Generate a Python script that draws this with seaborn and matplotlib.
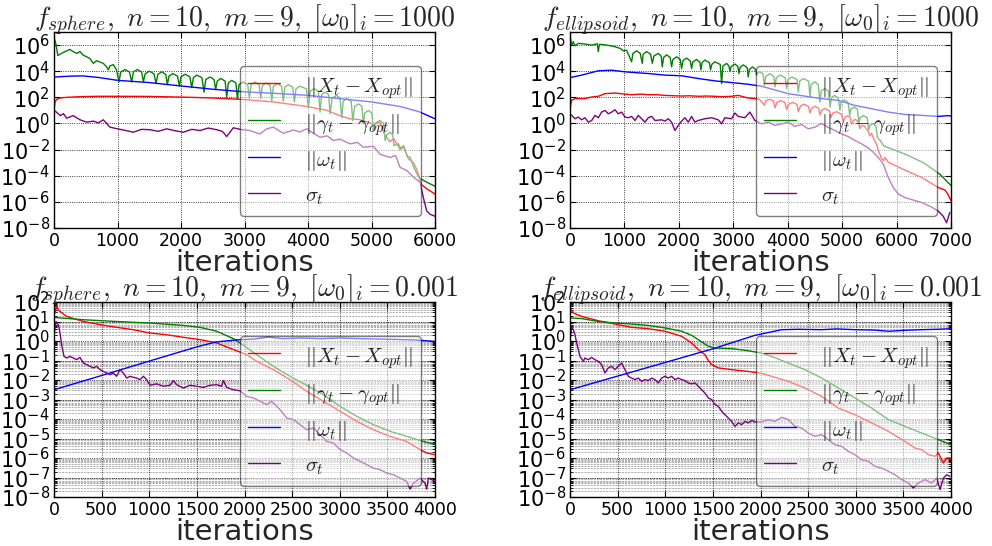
import numpy as np
import pandas as pd
import matplotlib
matplotlib.use("Agg")
import matplotlib.pyplot as plt
from matplotlib.font_manager import FontProperties
from matplotlib.transforms import offset_copy
from matplotlib.ticker import (FixedLocator, LogLocator, LogFormatterSciNotation,
                               NullLocator, NullFormatter)
import seaborn as sns

# ---------------------------------------------------------------------------
# Convergence traces: (iteration, log10 of the quantity)
# ---------------------------------------------------------------------------

# f_sphere, [w0]_i = 1000
sph_big_x = [(0, 1.0), (15, 1.6), (40, 1.85), (100, 1.95), (200, 2.0), (400, 2.05),
             (700, 2.08), (1000, 2.08), (1500, 2.07), (2000, 2.02), (2500, 1.95),
             (2930, 1.85), (3450, 1.65), (3980, 1.3), (4300, 1.0), (4500, 0.6),
             (4660, 0.36), (4800, 0.3), (4950, 0.1), (5030, -0.1), (5130, 0.1),
             (5210, -0.9), (5290, -1.4), (5350, -1.15), (5450, -2.0), (5500, -1.7),
             (5580, -2.7), (5660, -3.0), (5710, -3.5), (5790, -4.7), (5870, -5.0),
             (6000, -5.4)]
sph_big_gamma = [(0, 6.6), (30, 6.1), (60, 5.2), (115, 5.36), (200, 5.56), (250, 5.67),
                 (300, 5.5), (360, 5.36), (410, 5.5), (460, 5.23), (515, 5.1),
                 (565, 4.97), (620, 4.6), (670, 4.8), (725, 4.7), (775, 4.6),
                 (830, 4.33), (855, 4.1), (880, 4.4), (935, 4.5), (985, 4.1),
                 (1024, 3.18), (1050, 3.93), (1119, 4.13), (1190, 3.93),
                 (1224, 3.18), (1250, 3.93), (1313, 4.13), (1380, 3.93),
                 (1408, 3.18), (1435, 3.8), (1502, 4.0), (1575, 3.8),
                 (1607, 3.05), (1635, 3.75), (1697, 3.95), (1760, 3.75),
                 (1786, 2.97), (1810, 3.62), (1870, 3.82), (1945, 3.62),
                 (1975, 2.85), (2000, 3.57), (2064, 3.77), (2140, 3.57),
                 (2169, 2.74), (2195, 3.5), (2248, 3.7), (2330, 3.5),
                 (2363, 2.4), (2390, 3.36), (2457, 3.56), (2520, 3.36),
                 (2546, 2.6), (2570, 3.24), (2625, 3.44), (2695, 3.24),
                 (2720, 2.0), (2745, 3.1), (2799, 3.3), (2865, 3.1),
                 (2888, 1.9), (2915, 2.98), (2982, 3.18), (3050, 2.98),
                 (3077, 1.9), (3105, 2.98), (3166, 3.18), (3230, 2.98),
                 (3256, 1.9), (3280, 2.9), (3340, 3.1), (3405, 2.9),
                 (3429, 1.72), (3455, 2.85), (3518, 3.05), (3585, 2.85),
                 (3612, 1.72), (3635, 2.77), (3691, 2.97), (3760, 2.77),
                 (3786, 1.64), (3810, 2.65), (3875, 2.85), (3975, 2.65),
                 (4006, 1.2), (4035, 2.47), (4096, 2.67), (4165, 2.47),
                 (4190, 0.87), (4215, 2.2), (4269, 2.4), (4325, 2.2),
                 (4348, 0.74), (4380, 1.95), (4452, 2.15), (4505, 1.95),
                 (4531, 0.44), (4555, 1.7), (4610, 1.9), (4680, 1.7),
                 (4705, 0.23), (4735, 1.3), (4794, 1.5), (4850, 1.3),
                 (4872, -0.03), (4895, 0.8), (4951, 1.0), (5005, 0.8),
                 (5030, -0.54), (5060, 0.03), (5135, 0.23), (5190, 0.0),
                 (5214, -1.3), (5240, -0.87), (5292, -0.67), (5335, -0.9),
                 (5355, -1.7), (5420, -1.55), (5470, -1.95), (5510, -1.75),
                 (5560, -2.5), (5610, -2.6), (5660, -3.3), (5720, -3.9),
                 (5765, -4.2), (5870, -4.5), (6000, -4.8)]
sph_big_omega = [(0, 3.55), (250, 3.62), (450, 3.64), (700, 3.52), (1000, 3.3),
                 (1500, 3.13), (2000, 2.87), (2500, 2.62), (3000, 2.42), (3500, 2.3),
                 (4000, 2.15), (4500, 1.9), (5000, 1.65), (5450, 1.3), (5750, 0.9),
                 (6000, 0.36)]
sph_big_sigma = [(0, 1.0), (30, 0.9), (100, 0.6), (150, 0.75), (200, 0.4), (300, 0.6),
                 (410, 0.28), (515, 0.1), (620, 0.18), (700, 0.05), (777, 0.28),
                 (880, -0.28), (987, -0.4), (1092, -0.5), (1250, -0.67), (1380, -0.45),
                 (1512, -0.48), (1640, -0.6), (1775, -0.41), (1900, -0.55), (2037, -0.67),
                 (2170, -0.45), (2300, -0.54), (2430, -0.35), (2562, -0.48), (2650, -0.6),
                 (2720, -1.0), (2824, -0.33), (2930, -0.45), (3087, -0.55), (3244, -0.8),
                 (3350, -0.41), (3454, -0.28), (3612, -0.75), (3769, -0.5), (3870, -0.65),
                 (3979, -0.41), (4100, -0.8), (4189, -1.05), (4300, -0.95), (4400, -1.3),
                 (4504, -1.2), (4662, -1.56), (4780, -1.45), (4872, -1.82), (5030, -1.75),
                 (5135, -2.36), (5292, -2.6), (5380, -2.45), (5450, -3.36), (5555, -3.6),
                 (5660, -4.1), (5765, -4.5), (5818, -5.7), (5870, -6.7), (5923, -6.95),
                 (6000, -7.1)]

# f_ellipsoid, [w0]_i = 1000
ell_big_x = [(0, 1.13), (30, 1.77), (90, 1.9), (275, 1.9), (400, 2.03), (520, 2.08),
             (640, 2.28), (830, 2.33), (1000, 2.25), (1130, 2.2), (1300, 2.25),
             (1440, 2.2), (1600, 2.2), (1740, 2.15), (1900, 2.12), (2050, 2.1),
             (2200, 2.12), (2360, 2.08), (2500, 2.1), (2660, 2.08), (2800, 2.05),
             (2970, 2.08), (3090, 2.15), (3270, 1.95), (3400, 1.9), (3480, 1.85),
             (3570, 1.4), (3600, 1.75), (3670, 1.85), (3740, 1.7), (3766, 1.2),
             (3800, 1.6), (3870, 1.75), (3950, 1.6), (3980, 1.05), (4010, 1.45),
             (4090, 1.62), (4170, 1.45), (4195, 0.9), (4230, 1.3), (4300, 1.48),
             (4380, 1.3), (4409, 0.8), (4440, 1.15), (4500, 1.32), (4570, 1.15),
             (4592, 0.65), (4620, 1.0), (4690, 1.15), (4770, 0.95), (4794, 0.45),
             (4830, 0.8), (4900, 0.9), (4990, 0.7), (5021, 0.2), (5060, 0.5),
             (5100, 0.58), (5150, 0.45), (5174, -0.05), (5210, 0.25), (5250, 0.3),
             (5300, 0.1), (5327, -0.4), (5360, -0.15), (5410, -0.2), (5480, -0.6),
             (5510, -0.95), (5540, -0.75), (5572, -1.1), (5633, -1.6), (5664, -2.05),
             (5725, -2.7), (5760, -2.85), (5790, -2.6), (5847, -2.97), (6150, -3.56),
             (6460, -4.13), (6765, -4.9), (6890, -5.1), (6940, -5.4), (7000, -5.9)]
ell_big_gamma = [(0, 1.1), (5, 6.6), (31, 6.0), (61, 6.26), (90, 5.95), (153, 6.13),
                 (275, 6.08), (398, 6.0), (500, 6.1), (520, 5.5), (540, 6.05),
                 (581, 6.05), (704, 5.98), (826, 5.87), (918, 5.75), (979, 5.56),
                 (1040, 5.6),
                 (1132, 4.72), (1155, 5.36), (1224, 5.56), (1290, 5.36),
                 (1328, 4.6), (1345, 5.3), (1408, 5.5), (1480, 5.3),
                 (1512, 4.6), (1540, 5.16), (1622, 5.36), (1675, 5.16),
                 (1695, 4.33), (1720, 5.05), (1775, 5.25), (1840, 5.05),
                 (1867, 4.33), (1890, 4.9), (1959, 5.1), (2025, 4.9),
                 (2050, 4.2), (2075, 4.8), (2142, 5.0), (2210, 4.8),
                 (2234, 4.2), (2255, 4.7), (2326, 4.9), (2385, 4.7),
                 (2405, 4.1), (2425, 4.65), (2479, 4.85), (2560, 4.65),
                 (2583, 4.1), (2605, 4.52), (2662, 4.72), (2760, 4.52),
                 (2785, 3.05), (2810, 4.4), (2877, 4.6), (2920, 4.4),
                 (2938, 4.0), (2960, 4.35), (3030, 4.55), (3085, 4.35),
                 (3103, 3.82), (3125, 4.28), (3183, 4.48), (3255, 4.28),
                 (3274, 3.56), (3295, 4.13), (3354, 4.33), (3410, 4.13),
                 (3427, 3.7), (3445, 3.85), (3480, 3.95), (3545, 3.8),
                 (3570, 2.92), (3595, 3.6), (3674, 3.8), (3745, 3.6),
                 (3766, 2.8), (3790, 3.5), (3858, 3.7), (3955, 3.5),
                 (3980, 2.67), (4005, 3.36), (4072, 3.56), (4170, 3.36),
                 (4195, 2.4), (4220, 3.24), (4286, 3.44), (4385, 3.24),
                 (4409, 2.0), (4430, 2.98), (4500, 3.18), (4560, 2.98),
                 (4592, 1.64), (4615, 2.47), (4680, 2.67), (4750, 2.47),
                 (4780, 1.26), (4800, 1.95), (4860, 2.15), (4930, 1.95),
                 (4960, 1.0), (4980, 1.6), (5040, 1.8), (5110, 1.6),
                 (5140, 0.6), (5160, 1.1), (5220, 1.25), (5280, 1.1),
                 (5310, 0.0), (5330, 0.45), (5390, 0.6), (5460, 0.45),
                 (5490, -0.5), (5510, -0.15), (5570, 0.0), (5620, -0.2),
                 (5650, -1.1), (5700, -1.3), (5760, -1.7), (5880, -1.9),
                 (6186, -2.4), (6493, -3.0), (6799, -3.9), (7000, -4.75)]
ell_big_omega = [(0, 3.51), (214, 3.7), (520, 4.03), (765, 4.08), (1010, 3.95),
                 (1438, 3.82), (1744, 3.7), (2050, 3.65), (2356, 3.44), (2662, 3.26),
                 (2968, 3.13), (3274, 3.0), (3519, 2.85), (4011, 2.28), (4623, 1.9),
                 (4929, 1.77), (5235, 1.38), (5541, 1.13), (5847, 0.87), (6153, 0.69),
                 (6459, 0.62), (6765, 0.54), (6949, 0.6), (7000, 0.56)]
ell_big_sigma = [(0, 0.74), (31, 0.62), (92, 0.36), (153, 0.49), (214, 0.28), (275, 0.44),
                 (337, 0.1), (398, 0.23), (459, 0.62), (520, 0.44), (581, 0.87),
                 (643, 1.0), (704, 0.74), (765, 0.87), (826, 1.05), (888, 0.74),
                 (949, 0.87), (1010, 0.49), (1071, 0.44), (1132, 0.54), (1194, 0.23),
                 (1255, 0.62), (1316, 0.36), (1377, 0.1), (1438, 0.44), (1500, 0.54),
                 (1561, 0.23), (1683, 0.28), (1744, 0.18), (1806, 0.36), (1867, 0.1),
                 (1928, -0.54), (1990, -0.15), (2050, 0.18), (2112, 0.44), (2173, 0.1),
                 (2234, 0.54), (2295, 0.1), (2356, 0.23), (2479, 0.36), (2601, 0.44),
                 (2724, 0.28), (2785, -0.03), (2846, 0.44), (2968, 0.36), (3030, 0.8),
                 (3091, 0.54), (3213, 0.44), (3305, 0.87), (3397, 0.23), (3519, -0.03),
                 (3644, 0.1), (3766, -0.15), (3889, -0.03), (4011, 0.1), (4133, -0.23),
                 (4256, -0.08), (4378, -0.41), (4500, -0.28), (4623, 0.0), (4745, -0.3),
                 (4868, -0.54), (4990, -0.8), (5113, -1.0), (5235, -1.3), (5357, -1.56),
                 (5480, -1.87), (5572, -2.2), (5664, -2.6), (5755, -3.1), (5847, -4.13),
                 (5939, -4.9), (6031, -5.4), (6153, -5.67), (6337, -5.9), (6459, -6.05),
                 (6643, -6.4), (6765, -6.7), (6857, -7.1), (6918, -7.6), (6979, -6.8)]

# f_sphere, [w0]_i = 0.001
sph_small_x = [(0, 1.3), (30, 1.8), (45, 1.6), (63, 1.52), (133, 1.26), (308, 1.0),
               (483, 0.84), (658, 0.7), (833, 0.58), (1008, 0.41), (1183, 0.32),
               (1358, 0.19), (1533, 0.07), (1708, -0.1), (1883, -0.44), (2023, -0.7),
               (2128, -1.04), (2303, -1.47), (2478, -1.98), (2653, -2.58), (2828, -3.09),
               (3003, -3.6), (3178, -4.12), (3353, -4.55), (3528, -4.89), (3703, -5.15),
               (3843, -5.57), (3913, -5.74), (4000, -5.83)]
sph_small_gamma = [(0, 1.21), (308, 1.09), (658, 1.0), (1008, 0.92), (1358, 0.8),
                   (1533, 0.7), (1708, 0.5), (1883, 0.12), (1953, -0.1), (2128, -0.7),
                   (2303, -1.3), (2478, -1.81), (2653, -2.27), (2828, -2.75),
                   (3003, -3.35), (3178, -3.86), (3353, -4.29), (3528, -4.63),
                   (3703, -4.89), (3878, -5.15), (4000, -5.3)]
sph_small_omega = [(0, -2.5), (500, -1.77), (1000, -1.03), (1500, -0.3), (1700, -0.05),
                   (1900, 0.05), (2100, 0.1), (2250, 0.2), (2400, 0.12), (2600, 0.15),
                   (2800, 0.12), (3000, 0.15), (3200, 0.12), (3400, 0.1), (3600, 0.08),
                   (3800, 0.05), (4000, -0.02)]
sph_small_sigma = [(0, 0.32), (21, 1.0), (45, 0.84), (63, 0.41), (80, -0.19), (105, -0.79),
                   (133, -0.87), (168, -0.79), (203, -0.87), (238, -0.96), (273, -0.84),
                   (308, -1.13), (343, -1.21), (378, -1.3), (413, -1.38), (448, -1.3),
                   (483, -1.47), (518, -1.56), (553, -1.64), (588, -1.73), (623, -1.64),
                   (658, -1.81), (693, -1.47), (728, -1.64), (763, -1.9), (798, -1.81),
                   (833, -1.86), (868, -1.9), (903, -1.98), (938, -1.81), (973, -1.98),
                   (1008, -2.27), (1078, -2.2), (1148, -2.32), (1218, -2.27), (1253, -2.03),
                   (1288, -2.24), (1358, -2.41), (1428, -2.27), (1498, -2.32), (1568, -2.38),
                   (1638, -2.27), (1708, -2.24), (1760, -2.32), (1778, -2.03), (1813, -2.38),
                   (1883, -2.5), (1953, -2.55), (2023, -2.84), (2093, -2.92), (2163, -3.09),
                   (2233, -3.26), (2280, -3.1), (2303, -3.18), (2373, -3.52), (2443, -3.95),
                   (2513, -4.03), (2583, -4.29), (2653, -4.55), (2723, -4.46), (2793, -4.8),
                   (2863, -5.15), (2933, -5.23), (3003, -5.57), (3073, -5.74), (3143, -6.0),
                   (3213, -6.17), (3283, -6.34), (3353, -6.52), (3423, -6.6), (3493, -6.77),
                   (3563, -6.86), (3633, -7.03), (3703, -7.2), (3738, -7.6), (3773, -7.3),
                   (3843, -7.03), (3896, -7.3), (3913, -7.6), (3931, -7.03), (4000, -7.2)]

# f_ellipsoid, [w0]_i = 0.001
ell_small_x = [(0, 1.44), (17, 1.6), (35, 1.44), (122, 1.26), (297, 1.04), (472, 0.87),
               (647, 0.7), (822, 0.63), (997, 0.5), (1172, 0.24), (1277, -0.1),
               (1347, -0.44), (1417, -0.7), (1452, -1.0), (1487, -1.21), (1557, -1.38),
               (1697, -1.47), (1872, -1.56), (2012, -1.66), (2117, -1.81), (2292, -2.07),
               (2467, -2.41), (2642, -2.84), (2817, -3.44), (2992, -3.78), (3167, -4.2),
               (3342, -4.63), (3517, -5.15), (3622, -5.49), (3692, -5.57), (3762, -5.83),
               (3832, -5.91), (3867, -5.74), (3920, -6.26), (3955, -6.0), (3990, -6.0),
               (4000, -6.1)]
ell_small_gamma = [(0, 1.26), (17, 1.18), (122, 1.15), (297, 1.0), (472, 0.92), (647, 0.87),
                   (822, 0.8), (997, 0.67), (1172, 0.5), (1277, 0.29), (1347, 0.07),
                   (1452, -0.27), (1522, -0.36), (1697, -0.39), (1872, -0.5), (2012, -0.62),
                   (2117, -0.79), (2292, -1.13), (2467, -1.47), (2642, -1.9), (2817, -2.41),
                   (2992, -2.92), (3167, -3.44), (3342, -4.03), (3517, -4.38), (3692, -4.72),
                   (3867, -5.06), (4000, -5.32)]
ell_small_omega = [(0, -2.5), (500, -1.8), (1000, -1.1), (1500, -0.4), (1942, 0.29),
                   (2222, 0.58), (2400, 0.6), (2642, 0.58), (2800, 0.62), (2992, 0.58),
                   (3200, 0.56), (3342, 0.5), (3517, 0.55), (3692, 0.58), (3850, 0.6),
                   (4000, 0.63)]
ell_small_sigma = [(0, -0.02), (17, 0.75), (35, 0.58), (52, 0.33), (70, -0.1), (105, -0.79),
                   (140, -1.04), (157, -0.87), (192, -0.96), (227, -0.84), (262, -0.96),
                   (297, -1.04), (332, -1.21), (367, -1.64), (402, -1.38), (437, -1.3),
                   (472, -1.47), (507, -1.3), (542, -1.13), (577, -1.47), (612, -1.81),
                   (647, -1.9), (682, -1.98), (717, -1.9), (752, -2.07), (787, -1.98),
                   (822, -2.03), (857, -1.9), (892, -1.98), (927, -2.15), (962, -1.9),
                   (997, -1.81), (1032, -1.9), (1067, -1.81), (1102, -1.98), (1137, -1.9),
                   (1172, -1.98), (1207, -2.03), (1242, -2.15), (1277, -2.2), (1312, -2.15),
                   (1347, -2.32), (1382, -2.5), (1417, -2.67), (1452, -2.92), (1487, -3.0),
                   (1522, -3.26), (1557, -3.35), (1592, -3.6), (1627, -3.78), (1662, -3.95),
                   (1697, -4.12), (1732, -4.38), (1767, -4.2), (1802, -4.29), (1837, -4.12),
                   (1872, -4.2), (1907, -4.08), (1942, -4.15), (2012, -4.15), (2082, -4.03),
                   (2152, -4.12), (2222, -3.91), (2292, -4.03), (2362, -4.38), (2432, -4.46),
                   (2502, -4.72), (2572, -4.89), (2642, -4.8), (2712, -5.06), (2782, -5.32),
                   (2852, -5.4), (2922, -5.66), (2992, -5.83), (3062, -6.09), (3132, -6.17),
                   (3202, -6.43), (3272, -6.52), (3342, -6.68), (3412, -6.86), (3482, -7.11),
                   (3552, -7.28), (3605, -7.54), (3657, -7.28), (3727, -7.11), (3797, -7.28),
                   (3850, -7.03), (3885, -7.62), (3920, -7.03), (3955, -6.86), (3990, -6.94)]

series_labels = [r"$||X_t - X_{opt}||$", r"$||\gamma_t - \gamma_{opt}||$",
                 r"$||\omega_t||$", r"$\sigma_t$"]
series_colors = ["#ff0000", "#008000", "#0000ff", "#800080"]

panel_titles = [
    r"$f_{sphere},\ n=10,\ m=9,\ [\omega_0]_i=1000$",
    r"$f_{ellipsoid},\ n=10,\ m=9,\ [\omega_0]_i=1000$",
    r"$f_{sphere},\ n=10,\ m=9,\ [\omega_0]_i=0.001$",
    r"$f_{ellipsoid},\ n=10,\ m=9,\ [\omega_0]_i=0.001$",
]
panel_series = [
    [sph_big_x, sph_big_gamma, sph_big_omega, sph_big_sigma],
    [ell_big_x, ell_big_gamma, ell_big_omega, ell_big_sigma],
    [sph_small_x, sph_small_gamma, sph_small_omega, sph_small_sigma],
    [ell_small_x, ell_small_gamma, ell_small_omega, ell_small_sigma],
]
panel_xmax = [6000, 7000, 4000, 4000]
panel_xstep = [1000, 1000, 500, 500]
panel_ylim = [(1e-8, 1e7), (1e-8, 1e7), (1e-8, 1e2), (1e-8, 1e2)]

# ---------------------------------------------------------------------------
sns.set_style("ticks")
plt.rcParams.update({
    "font.family": ["DejaVu Sans"],
    "mathtext.fontset": "dejavusans",
    "axes.unicode_minus": False,
    "xtick.direction": "in", "ytick.direction": "in",
    "xtick.top": True, "ytick.right": True,
    "xtick.major.size": 4, "ytick.major.size": 4,
    "xtick.minor.size": 2, "ytick.minor.size": 2,
    "xtick.major.pad": 3, "ytick.major.pad": 3,
    "axes.edgecolor": "black", "axes.linewidth": 1.0,
    "xtick.color": "black", "ytick.color": "black",
    "figure.facecolor": "white", "axes.facecolor": "white",
})

W, H = 992, 546
fig = plt.figure(figsize=(W / 100, H / 100), dpi=100)
boxes = [(54, 32, 381, 196), (570, 32, 381, 196), (54, 302, 381, 195), (570, 302, 381, 195)]

legend_font = FontProperties(size=15, math_fontfamily="cm")
title_font = FontProperties(size=20, math_fontfamily="cm")

for k in range(4):
    left, top, w, h = boxes[k]
    ax = fig.add_axes([left / W, 1 - (top + h) / H, w / W, h / H])
    for pts, lab, col in zip(panel_series[k], series_labels, series_colors):
        df = pd.DataFrame(pts, columns=["iteration", "log10"])
        df["value"] = 10.0 ** df["log10"]
        sns.lineplot(data=df, x="iteration", y="value", ax=ax, color=col, lw=1.0,
                     label=lab, estimator=None, sort=False)
    ax.set_yscale("log")
    ax.set_xlim(0, panel_xmax[k])
    ax.set_ylim(*panel_ylim[k])
    ax.set_xticks(np.arange(0, panel_xmax[k] + 1, panel_xstep[k]))
    if k < 2:
        ax.yaxis.set_major_locator(FixedLocator([10.0 ** e for e in range(-8, 7, 2)]))
        ax.yaxis.set_minor_locator(NullLocator())
        ax.grid(True, which="major", color="black", linestyle=":", lw=0.6)
    else:
        ax.yaxis.set_major_locator(FixedLocator([10.0 ** e for e in range(-8, 3)]))
        ax.yaxis.set_minor_locator(LogLocator(base=10, subs=np.arange(2, 10), numticks=50))
        ax.yaxis.set_minor_formatter(NullFormatter())
        ax.grid(True, which="major", color="black", linestyle=":", lw=0.6)
        ax.grid(True, which="minor", axis="y", color="black", linestyle=":", lw=0.4)
    ax.yaxis.set_major_formatter(LogFormatterSciNotation())
    ax.tick_params(axis="x", labelsize=12.5)
    ax.tick_params(axis="y", labelsize=15)
    ax.set_xlabel("iterations", fontsize=21, labelpad=-1)
    ax.set_ylabel("")
    ax.text(0.5, 1.0, panel_titles[k], fontproperties=title_font, ha="center",
            va="baseline", transform=offset_copy(ax.transAxes, fig=fig, x=0, y=5, units="dots"))
    leg = ax.legend(loc="upper left", bbox_to_anchor=(0.488, 0.826), borderaxespad=0,
                    prop=legend_font, framealpha=0.5, fancybox=True, edgecolor="black",
                    facecolor="white", handlelength=1.5, handletextpad=1.2,
                    handleheight=1.25, labelspacing=0.5, borderpad=0.4)
    leg.get_frame().set_linewidth(1.0)
    for ln in leg.get_lines():
        ln.set_linewidth(1.0)

fig.savefig("out.png", dpi=100, facecolor="white")
